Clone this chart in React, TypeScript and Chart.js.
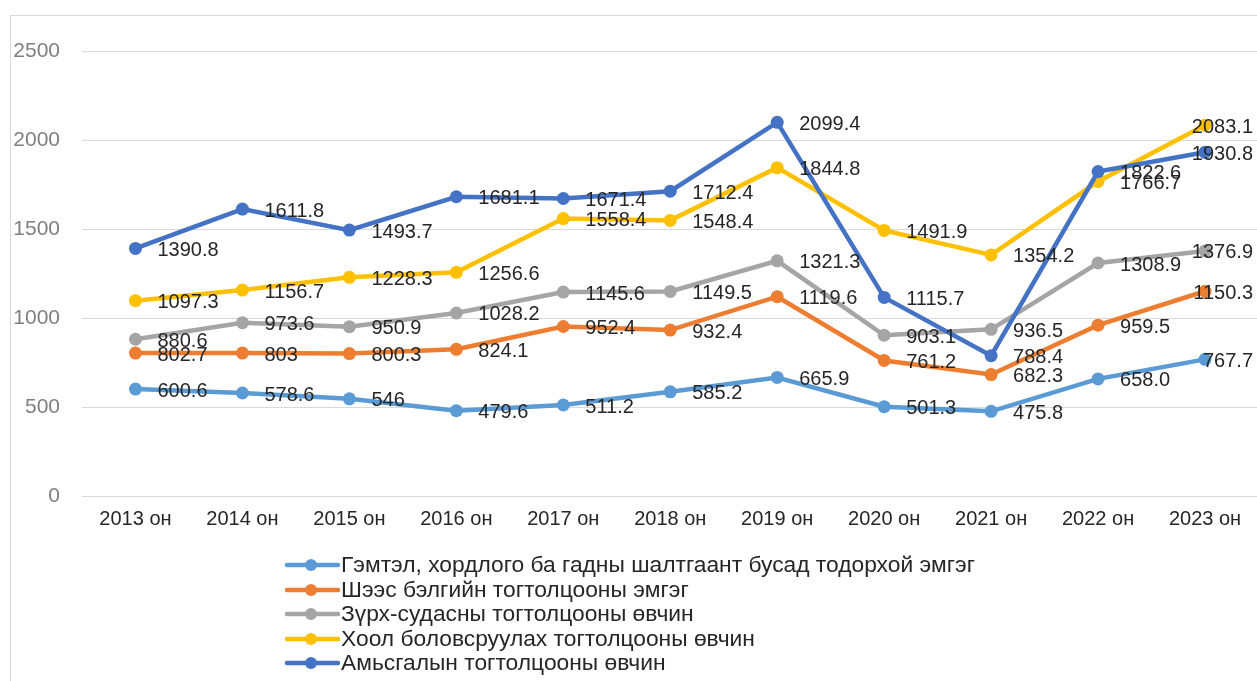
import React, { useEffect, useRef } from "react";
import { Chart, registerables } from "chart.js";

Chart.register(...registerables);

const years = ["2013 он", "2014 он", "2015 он", "2016 он", "2017 он", "2018 он", "2019 он", "2020 он", "2021 он", "2022 он", "2023 он"];

const seriesNames = [
  "Гэмтэл, хордлого ба гадны шалтгаант бусад тодорхой эмгэг",
  "Шээс бэлгийн тогтолцооны эмгэг",
  "Зүрх-судасны тогтолцооны өвчин",
  "Хоол боловсруулах тогтолцооны өвчин",
  "Амьсгалын тогтолцооны өвчин",
];

const injury = ["600.6", "578.6", "546", "479.6", "511.2", "585.2", "665.9", "501.3", "475.8", "658.0", "767.7"];
const urinary = ["802.7", "803", "800.3", "824.1", "952.4", "932.4", "1119.6", "761.2", "682.3", "959.5", "1150.3"];
const cardio = ["880.6", "973.6", "950.9", "1028.2", "1145.6", "1149.5", "1321.3", "903.1", "936.5", "1308.9", "1376.9"];
const digestive = ["1097.3", "1156.7", "1228.3", "1256.6", "1558.4", "1548.4", "1844.8", "1491.9", "1354.2", "1766.7", "2083.1"];
const respiratory = ["1390.8", "1611.8", "1493.7", "1681.1", "1671.4", "1712.4", "2099.4", "1115.7", "788.4", "1822.6", "1930.8"];

const seriesValues = [injury, urinary, cardio, digestive, respiratory];
const seriesColors = ["#5B9BD5", "#ED7D31", "#A5A5A5", "#FFC000", "#4472C4"];

const FONT = "'Liberation Sans', Arial, sans-serif";

const framePlugin = {
  id: "frame",
  beforeDraw(chart: any) {
    const ctx = chart.ctx;
    ctx.save();
    ctx.fillStyle = "#ffffff";
    ctx.fillRect(0, 0, chart.width, chart.height);
    ctx.strokeStyle = "#d9d9d9";
    ctx.lineWidth = 1;
    ctx.strokeRect(10.5, 15.5, chart.width + 20, chart.height + 20);
    ctx.restore();
  },
};

const labelPlugin = {
  id: "valueLabels",
  afterDatasetsDraw(chart: any) {
    const ctx = chart.ctx;
    ctx.save();
    ctx.font = `20px ${FONT}`;
    ctx.fillStyle = "#262626";
    ctx.textBaseline = "middle";
    ctx.textAlign = "left";
    const rightLimit = 1253;
    chart.data.datasets.forEach((ds: any, i: number) => {
      const meta = chart.getDatasetMeta(i);
      meta.data.forEach((pt: any, j: number) => {
        const txt = ds.labelsText[j];
        const w = ctx.measureText(txt).width;
        let x = pt.x + 22;
        if (x + w > rightLimit) x = rightLimit - w;
        ctx.fillText(txt, x, pt.y + 2);
      });
    });
    ctx.restore();
  },
};

const legendPlugin = {
  id: "customLegend",
  afterDraw(chart: any) {
    const ctx = chart.ctx;
    ctx.save();
    const rows = [565, 590, 614, 639, 663];
    seriesNames.forEach((name, i) => {
      const y = rows[i];
      ctx.strokeStyle = seriesColors[i];
      ctx.lineWidth = 4.5;
      ctx.lineCap = "round";
      ctx.beginPath();
      ctx.moveTo(287, y);
      ctx.lineTo(338, y);
      ctx.stroke();
      ctx.fillStyle = seriesColors[i];
      ctx.beginPath();
      ctx.arc(311, y, 6, 0, Math.PI * 2);
      ctx.fill();
      ctx.fillStyle = "#262626";
      ctx.font = `22.8px ${FONT}`;
      ctx.textBaseline = "middle";
      ctx.textAlign = "left";
      ctx.fillText(name, 341, y + 1);
    });
    ctx.restore();
  },
};

export default function App() {
  const ref = useRef<HTMLCanvasElement | null>(null);
  useEffect(() => {
    document.body.style.margin = "0";
    const canvas = ref.current!;
    const chart = new Chart(canvas, {
      type: "line",
      data: {
        labels: years,
        datasets: seriesValues.map((vals, i) => ({
          label: seriesNames[i],
          data: vals.map((v) => Number(v)),
          labelsText: vals,
          borderColor: seriesColors[i],
          backgroundColor: seriesColors[i],
          pointBackgroundColor: seriesColors[i],
          pointBorderColor: seriesColors[i],
          borderWidth: 4.5,
          pointRadius: 6.5,
          pointBorderWidth: 0,
          tension: 0,
          fill: false,
          order: 4 - i,
        })) as any,
      },
      options: {
        animation: false,
        responsive: false,
        maintainAspectRatio: false,
        events: [],
        layout: { padding: { left: 0, right: 0, top: 51, bottom: 0 } },
        plugins: {
          legend: { display: false },
          tooltip: { enabled: false },
          title: { display: false },
        },
        scales: {
          x: {
            type: "category",
            offset: true,
            grid: { display: false, drawTicks: false },
            border: { display: false },
            ticks: {
              color: "#262626",
              font: { family: FONT, size: 20 },
              padding: 11,
              maxRotation: 0,
              autoSkip: false,
            },
            afterFit(scale: any) {
              scale.height = 185;
            },
          },
          y: {
            min: 0,
            max: 2500,
            grid: { color: "#d9d9d9", lineWidth: 1, drawTicks: false },
            border: { display: false },
            ticks: {
              stepSize: 500,
              color: "#7f7f7f",
              font: { family: FONT, size: 21 },
              padding: 22,
              callback: (v: any) => String(v),
            },
            afterFit(scale: any) {
              scale.width = 82;
            },
          },
        },
      },
      plugins: [framePlugin, labelPlugin, legendPlugin],
    });
    return () => chart.destroy();
  }, []);

  return (
    <div style={{ width: 1257, height: 681, overflow: "hidden", position: "relative" }}>
      <canvas ref={ref} width={1265} height={681} style={{ display: "block" }} />
    </div>
  );
}
